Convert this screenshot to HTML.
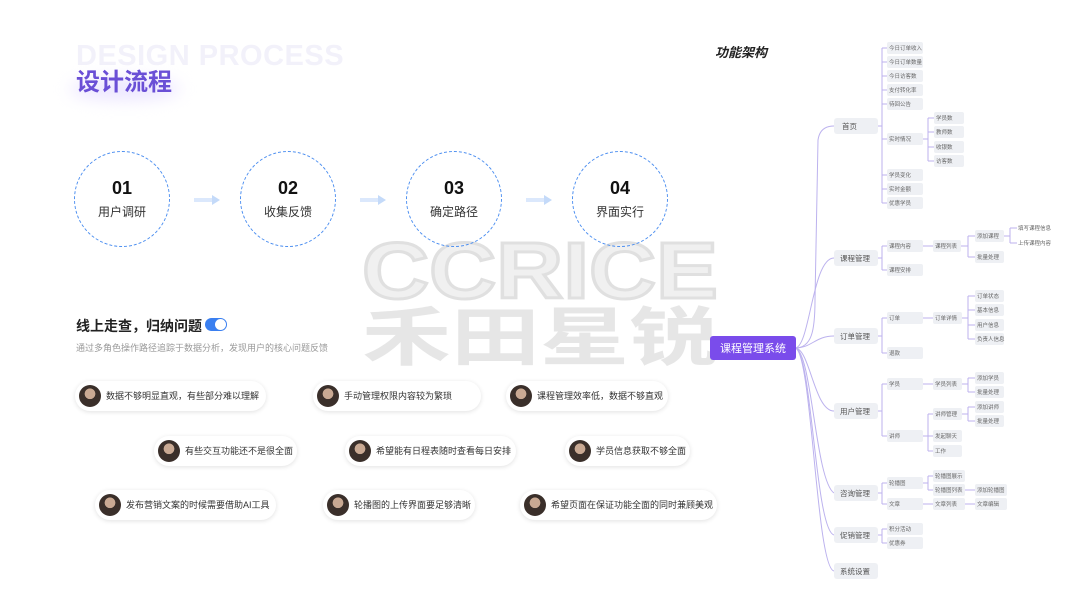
<!DOCTYPE html>
<html><head><meta charset="utf-8"><style>
*{margin:0;padding:0;box-sizing:border-box}
body{width:1080px;height:608px;background:#fff;position:relative;overflow:hidden;font-family:"Liberation Sans","Noto Sans CJK SC",sans-serif}
.abs{position:absolute}
.circ{position:absolute;width:96px;height:96px;border:1.5px dashed #4d8ff0;border-radius:50%;text-align:center}
.circ b{display:block;font-size:18px;color:#111;margin-top:26px;font-weight:900}
.circ span{display:block;font-size:12px;color:#333;margin-top:4px}
.arr{position:absolute;width:26px;height:10px;top:195px}
.pill{position:absolute;height:30px;border-radius:15px;background:#fff;box-shadow:0 1px 5px rgba(0,0,0,.12);font-size:9px;color:#333;line-height:30px;padding-left:31px;white-space:nowrap;overflow:hidden}
.pill i{position:absolute;left:4px;top:4px;width:22px;height:22px;border-radius:50%;background:radial-gradient(circle at 50% 40%,#c9a993 0 30%,#3a2f2a 32% 100%)}
</style></head><body>

<div class="abs" style="left:76px;top:40px;font-size:29px;font-weight:900;color:#f2f1fa;letter-spacing:0.5px">DESIGN PROCESS</div>
<div class="abs" style="left:70px;top:78px;width:110px;height:22px;border-radius:50%;background:#ece6ff;filter:blur(8px)"></div>
<div class="abs" style="left:76px;top:62px;font-size:24px;font-weight:bold;color:#6a4fd6">设计流程</div>

<svg class="abs" style="left:0;top:0" width="1080" height="608">
<text x="362" y="298" font-family="Liberation Sans" font-size="80" font-weight="bold" fill="#f0f0f0" stroke="#e0e0e0" stroke-width="3" textLength="356" lengthAdjust="spacingAndGlyphs">CCRICE</text>
<text x="362" y="360" font-family="Noto Sans CJK SC" font-size="64" font-weight="bold" fill="#e6e6e6" textLength="356" lengthAdjust="spacingAndGlyphs">禾田星锐</text>
</svg>

<div class="circ" style="left:74px;top:151px"><b>01</b><span>用户调研</span></div>
<div class="circ" style="left:240px;top:151px"><b>02</b><span>收集反馈</span></div>
<div class="circ" style="left:406px;top:151px"><b>03</b><span>确定路径</span></div>
<div class="circ" style="left:572px;top:151px"><b>04</b><span>界面实行</span></div>
<svg class="arr" style="left:194px" viewBox="0 0 26 10"><path d="M0 5H20" stroke="#dbe8fc" stroke-width="4"/><path d="M18 0L26 5L18 10Z" fill="#c4daf9"/></svg>
<svg class="arr" style="left:360px" viewBox="0 0 26 10"><path d="M0 5H20" stroke="#dbe8fc" stroke-width="4"/><path d="M18 0L26 5L18 10Z" fill="#c4daf9"/></svg>
<svg class="arr" style="left:526px" viewBox="0 0 26 10"><path d="M0 5H20" stroke="#dbe8fc" stroke-width="4"/><path d="M18 0L26 5L18 10Z" fill="#c4daf9"/></svg>

<div class="abs" style="left:76px;top:316px;font-size:14px;font-weight:bold;color:#222">线上走查，归纳问题</div>
<div class="abs" style="left:205px;top:318px;width:22px;height:13px;border-radius:7px;background:#3a7ff0"><div style="position:absolute;right:1px;top:1px;width:11px;height:11px;border-radius:50%;background:#fff"></div></div>
<div class="abs" style="left:76px;top:341px;font-size:9px;color:#999">通过多角色操作路径追踪于数据分析，发现用户的核心问题反馈</div>

<div class="pill" style="left:75px;top:381px;width:191px"><i></i>数据不够明显直观，有些部分难以理解</div>
<div class="pill" style="left:313px;top:381px;width:168px"><i></i>手动管理权限内容较为繁琐</div>
<div class="pill" style="left:506px;top:381px;width:162px"><i></i>课程管理效率低，数据不够直观</div>
<div class="pill" style="left:154px;top:436px;width:143px"><i></i>有些交互功能还不是很全面</div>
<div class="pill" style="left:345px;top:436px;width:171px"><i></i>希望能有日程表随时查看每日安排</div>
<div class="pill" style="left:565px;top:436px;width:125px"><i></i>学员信息获取不够全面</div>
<div class="pill" style="left:95px;top:490px;width:181px"><i></i>发布营销文案的时候需要借助AI工具</div>
<div class="pill" style="left:323px;top:490px;width:152px"><i></i>轮播图的上传界面要足够清晰</div>
<div class="pill" style="left:520px;top:490px;width:197px"><i></i>希望页面在保证功能全面的同时兼顾美观</div>

<div class="abs" style="left:715px;top:42px;font-size:13px;font-weight:bold;font-style:italic;color:#222">功能架构</div>

<svg class="abs" style="left:0;top:0" width="1080" height="608" font-family="Liberation Sans,Noto Sans CJK SC,sans-serif">
<g fill="none" stroke="#bcb2ee" stroke-width="1">
<path d="M795 348 C812 348 815 330 815 300 L818 140 Q820 126 834 126"/>
<path d="M795 348 C810 348 812 258 834 258"/>
<path d="M795 348 C812 348 815 336 834 336"/>
<path d="M795 348 C810 348 814 411 834 411"/>
<path d="M795 348 C812 350 815 480 834 493"/>
<path d="M795 348 C812 350 815 530 834 535"/>
<path d="M795 348 C812 350 816 568 834 571"/>
<path d="M878 126H882 M882 48V203 M882 48H887 M882 62H887 M882 76H887 M882 90H887 M882 104H887 M882 139H887 M882 175H887 M882 189H887 M882 203H887"/>
<path d="M922 139H928 M928 118V161 M928 118H934 M928 132H934 M928 147H934 M928 161H934"/>
<path d="M878 258H882 M882 246V270 M882 246H887 M882 270H887 M922 246H933 M960 246H968 M968 236V257 M968 236H975 M968 257H975 M1003 236H1010 M1010 228V243 M1010 228H1017 M1010 243H1017"/>
<path d="M878 336H882 M882 318V353 M882 318H887 M882 353H887 M922 318H933 M962 318H968 M968 296V339 M968 296H975 M968 310H975 M968 325H975 M968 339H975"/>
<path d="M878 411H882 M882 384V436 M882 384H887 M882 436H887 M922 384H933 M962 384H968 M968 378V392 M968 378H975 M968 392H975 M922 436H928 M928 414V451 M928 414H933 M928 436H933 M928 451H933 M962 414H968 M968 407V421 M968 407H975 M968 421H975"/>
<path d="M878 493H882 M882 483V504 M882 483H887 M882 504H887 M922 483H928 M928 476V490 M928 476H933 M928 490H933 M922 504H933 M965 490H975 M965 504H975"/>
<path d="M878 535H882 M882 529V543 M882 529H887 M882 543H887"/>
</g>
<rect x="710" y="336" width="86" height="24" rx="3" fill="#7a4ceb"/>
<text x="753" y="352" font-size="11" fill="#fff" text-anchor="middle">课程管理系统</text>
<g fill="#eef0f4">
<rect x="834" y="118" width="44" height="16" rx="3"/><rect x="834" y="250" width="44" height="16" rx="3"/><rect x="834" y="328" width="44" height="16" rx="3"/><rect x="834" y="403" width="44" height="16" rx="3"/><rect x="834" y="485" width="44" height="16" rx="3"/><rect x="834" y="527" width="44" height="16" rx="3"/><rect x="834" y="563" width="44" height="16" rx="3"/>
</g>
<g font-size="7.5" fill="#555">
<text x="842" y="129">首页</text><text x="840" y="261">课程管理</text><text x="840" y="339">订单管理</text><text x="840" y="414">用户管理</text><text x="840" y="496">咨询管理</text><text x="840" y="538">促销管理</text><text x="840" y="574">系统设置</text>
</g>
<g fill="#eef0f4">
<rect x="887" y="42" width="36" height="12" rx="2"/><rect x="887" y="56" width="36" height="12" rx="2"/><rect x="887" y="70" width="36" height="12" rx="2"/><rect x="887" y="84" width="36" height="12" rx="2"/><rect x="887" y="98" width="36" height="12" rx="2"/><rect x="887" y="133" width="36" height="12" rx="2"/><rect x="887" y="169" width="36" height="12" rx="2"/><rect x="887" y="183" width="36" height="12" rx="2"/><rect x="887" y="197" width="36" height="12" rx="2"/>
<rect x="934" y="112" width="30" height="12" rx="2"/><rect x="934" y="126" width="30" height="12" rx="2"/><rect x="934" y="141" width="30" height="12" rx="2"/><rect x="934" y="155" width="30" height="12" rx="2"/>
<rect x="887" y="240" width="36" height="12" rx="2"/><rect x="887" y="264" width="36" height="12" rx="2"/><rect x="933" y="240" width="28" height="12" rx="2"/><rect x="975" y="230" width="29" height="12" rx="2"/><rect x="975" y="251" width="29" height="12" rx="2"/>
<rect x="887" y="312" width="36" height="12" rx="2"/><rect x="887" y="347" width="36" height="12" rx="2"/><rect x="933" y="312" width="29" height="12" rx="2"/><rect x="975" y="290" width="29" height="12" rx="2"/><rect x="975" y="304" width="29" height="12" rx="2"/><rect x="975" y="319" width="29" height="12" rx="2"/><rect x="975" y="333" width="29" height="12" rx="2"/>
<rect x="887" y="378" width="36" height="12" rx="2"/><rect x="887" y="430" width="36" height="12" rx="2"/><rect x="933" y="378" width="29" height="12" rx="2"/><rect x="975" y="372" width="29" height="12" rx="2"/><rect x="975" y="386" width="29" height="12" rx="2"/><rect x="933" y="408" width="29" height="12" rx="2"/><rect x="933" y="430" width="29" height="12" rx="2"/><rect x="933" y="445" width="29" height="12" rx="2"/><rect x="975" y="401" width="29" height="12" rx="2"/><rect x="975" y="415" width="29" height="12" rx="2"/>
<rect x="887" y="477" width="36" height="12" rx="2"/><rect x="887" y="498" width="36" height="12" rx="2"/><rect x="933" y="470" width="32" height="12" rx="2"/><rect x="933" y="484" width="32" height="12" rx="2"/><rect x="933" y="498" width="32" height="12" rx="2"/><rect x="975" y="484" width="32" height="12" rx="2"/><rect x="975" y="498" width="32" height="12" rx="2"/>
<rect x="887" y="523" width="36" height="12" rx="2"/><rect x="887" y="537" width="36" height="12" rx="2"/>
</g>
<g font-size="5.5" fill="#666">
<text x="889" y="50">今日订单收入</text><text x="889" y="64">今日订单数量</text><text x="889" y="78">今日访客数</text><text x="889" y="92">支付转化率</text><text x="889" y="106">待回公告</text><text x="889" y="141">实时情况</text><text x="889" y="177">学员变化</text><text x="889" y="191">实时金额</text><text x="889" y="205">优惠学员</text>
<text x="936" y="120">学员数</text><text x="936" y="134">教师数</text><text x="936" y="149">收银数</text><text x="936" y="163">访客数</text>
<text x="889" y="248">课程内容</text><text x="889" y="272">课程安排</text><text x="935" y="248">课程列表</text><text x="977" y="238">添加课程</text><text x="977" y="259">批量处理</text><text x="1018" y="230">填写课程信息</text><text x="1018" y="245">上传课程内容</text>
<text x="889" y="320">订单</text><text x="889" y="355">退款</text><text x="935" y="320">订单详情</text><text x="977" y="298">订单状态</text><text x="977" y="312">基本信息</text><text x="977" y="327">用户信息</text><text x="977" y="341">负责人信息</text>
<text x="889" y="386">学员</text><text x="889" y="438">讲师</text><text x="935" y="386">学员列表</text><text x="977" y="380">添加学员</text><text x="977" y="394">批量处理</text><text x="935" y="416">讲师管理</text><text x="935" y="438">发起聊天</text><text x="935" y="453">工作</text><text x="977" y="409">添加讲师</text><text x="977" y="423">批量处理</text>
<text x="889" y="485">轮播图</text><text x="889" y="506">文章</text><text x="935" y="478">轮播图展示</text><text x="935" y="492">轮播图列表</text><text x="935" y="506">文章列表</text><text x="977" y="492">添加轮播图</text><text x="977" y="506">文章编辑</text>
<text x="889" y="531">积分活动</text><text x="889" y="545">优惠券</text>
</g>
</svg>
</body></html>
